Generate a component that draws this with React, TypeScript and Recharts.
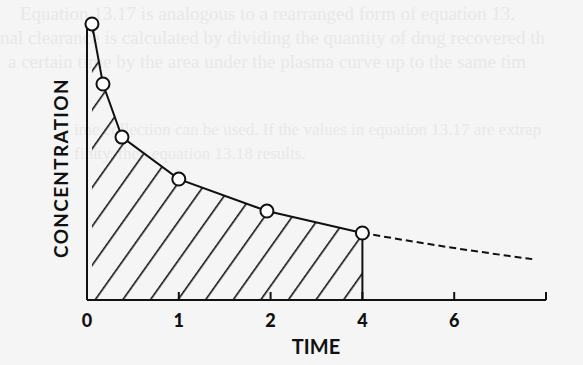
import React from 'react';
import { ComposedChart, Area, Line, XAxis, YAxis, ReferenceLine } from 'recharts';

// x values are positions on the (unevenly labelled) time axis: tick i sits at position i
const TICK_POS = [0, 1, 2, 3, 4, 5];
const TICK_LABELS = ['0', '1', '2', '4', '6', ''];

// measured points (t = 0 .. 4)
const MEASURED_X = [0.054, 0.174, 0.381, 1, 1.96, 3];
const MEASURED_C = [99.3, 77.7, 58.6, 43.5, 32.0, 24.1];

// extrapolated tail beyond the last sample
const EXTRAP_X = [3, 4, 4.85];
const EXTRAP_C = [24.1, 18.7, 14.7];

const measured = MEASURED_X.map((x, i) => ({ x, c: MEASURED_C[i] }));
const extrap = EXTRAP_X.map((x, i) => ({ x, c: EXTRAP_C[i] }));

// faint bleed-through from the other side of the scanned page
const GHOST_LINES: { text: string; x: number; y: number; size: number }[] = [
  { text: 'Equation 13.17 is analogous to a rearranged form of equation 13.', x: 20, y: 3, size: 19 },
  { text: 'nal clearance is calculated by dividing the quantity of drug recovered th', x: 0, y: 27, size: 19 },
  { text: 'a certain time by the area under the plasma curve up to the same tim', x: 8, y: 51, size: 19 },
  { text: 'ime collection can be used. If the values in equation 13.17 are extrap', x: 74, y: 120, size: 17 },
  { text: 'finity, then equation 13.18 results.', x: 74, y: 144, size: 17 },
];

const INK = '#111';

const TimeTick = (props: any) => {
  const { x, y, payload } = props;
  const label = TICK_LABELS[TICK_POS.indexOf(payload.value)] ?? '';
  return (
    <g>
      <line x1={x} x2={x} y1={y} y2={y - 8} stroke={INK} strokeWidth={2} />
      <text x={x} y={y + 27} textAnchor="middle" fontFamily="Lato" fontWeight={900} fontSize={18} fill={INK}>
        {label}
      </text>
    </g>
  );
};

const App = () => {
  return (
    <div style={{ position: 'absolute', left: 0, top: 0, width: 583, height: 365, background: '#f5f5f5', overflow: 'hidden' }}>
      {GHOST_LINES.map((g, i) => (
        <div
          key={i}
          style={{
            position: 'absolute', left: g.x, top: g.y, whiteSpace: 'nowrap',
            fontFamily: '"Liberation Serif"', fontSize: g.size, color: '#e8e8e8',
          }}
        >
          {g.text}
        </div>
      ))}
      <div style={{ position: 'absolute', left: 0, top: 0 }}>
        <ComposedChart width={583} height={365} margin={{ top: 22, right: 37, left: 87, bottom: 25 }}>
          <defs>
            <pattern id="hatch" patternUnits="userSpaceOnUse" width={22.5} height={12} patternTransform="rotate(35.4)">
              <line x1={3.7} x2={3.7} y1={0} y2={12} stroke={INK} strokeWidth={1.6} />
            </pattern>
          </defs>
          <XAxis
            dataKey="x"
            type="number"
            domain={[0, 5]}
            ticks={TICK_POS}
            interval={0}
            height={40}
            tickSize={0}
            tickMargin={0}
            tickLine={false}
            axisLine={{ stroke: INK, strokeWidth: 2 }}
            tick={<TimeTick />}
          />
          <YAxis hide type="number" domain={[0, 100]} />
          <ReferenceLine x={0} stroke={INK} strokeWidth={2} />
          <Area
            data={measured}
            dataKey="c"
            type="linear"
            stroke={INK}
            strokeWidth={2}
            fill="url(#hatch)"
            fillOpacity={1}
            dot={false}
            isAnimationActive={false}
          />
          <ReferenceLine segment={[{ x: 3, y: 0 }, { x: 3, y: MEASURED_C[5] }]} stroke={INK} strokeWidth={2} />
          <Line
            data={extrap}
            dataKey="c"
            type="monotone"
            stroke={INK}
            strokeWidth={2}
            strokeDasharray="7 4"
            dot={false}
            isAnimationActive={false}
          />
          <Line
            data={measured}
            dataKey="c"
            type="linear"
            stroke="none"
            dot={{ r: 6.5, fill: '#fff', stroke: INK, strokeWidth: 2 }}
            isAnimationActive={false}
          />
        </ComposedChart>
      </div>
      <div
        style={{
          position: 'absolute', left: 60, top: 168, transform: 'translate(-50%, -50%) rotate(-90deg)',
          fontFamily: 'Lato', fontWeight: 700, fontSize: 19, letterSpacing: 1.3, color: INK, whiteSpace: 'nowrap',
        }}
      >
        CONCENTRATION
      </div>
      <div
        style={{
          position: 'absolute', left: 316, top: 346, transform: 'translate(-50%, -50%)',
          fontFamily: 'Lato', fontWeight: 700, fontSize: 20, color: INK, whiteSpace: 'nowrap',
        }}
      >
        TIME
      </div>
    </div>
  );
};

export default App;
